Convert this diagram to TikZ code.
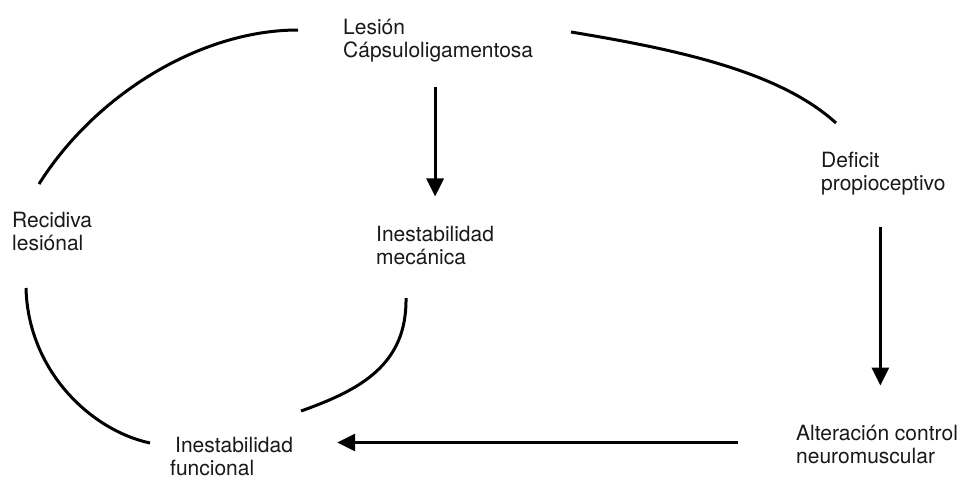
\documentclass[tikz,border=0pt]{standalone}
\usepackage{fontspec}
\setmainfont{TeX Gyre Heros}
\usetikzlibrary{arrows.meta}
\begin{document}
\begin{tikzpicture}[x=1pt,y=-1pt,
  lbl/.style={anchor=base west,inner sep=0pt,align=left,font=\fontsize{21}{23}\selectfont,text=black!90},
  arr/.style={line width=3pt,-{Triangle[length=18pt,width=17pt]}},
  arc/.style={line width=3pt}]
\useasboundingbox[fill=white] (0,0) rectangle (960,480);
\node[lbl] (les) at (343,57) {Lesión\\Cápsuloligamentosa};
\node[lbl] (mec) at (376,264) {Inestabilidad\\mecánica};
\node[lbl] (rec) at (12,250) {Recidiva\\lesiónal};
\node[lbl] (def) at (821,190) {Deficit\\propioceptivo};
\node[lbl] (fun) at (170,475) {\hspace{5pt}Inestabilidad\\funcional};
\node[lbl] (alt) at (796,463) {Alteración control\\neuromuscular};
% arrows
\draw[arr,shorten <=25pt,shorten >=29pt] (les.south -| mec.north) -- (mec.north);
\draw[arr,shorten <=32pt,shorten >=39pt] ([xshift=-3pt]def.south) -- ([xshift=-3pt]def.south |- alt.north);
\draw[arr,shorten <=58pt,shorten >=44pt] ([yshift=1.5pt]alt.west) -- ([yshift=1.5pt]alt.west -| fun.east);
% arcs
\coordinate (a1) at (39,184);  \coordinate (a2) at (298,30);
\coordinate (b1) at (571,32);  \coordinate (b2) at (836,123);
\coordinate (c1) at (26,288);  \coordinate (c2) at (150,443);
\coordinate (d1) at (406,298); \coordinate (d2) at (301,411);
\draw[arc] (a1) .. controls (95,95) and (200,30) .. (a2);
\draw[arc] (b1) .. controls (680,50) and (780,72) .. (b2);
\draw[arc] (c1) .. controls (28,370) and (90,430) .. (c2);
\draw[arc] (d1) .. controls (407,365) and (360,390) .. (d2);
\end{tikzpicture}
\end{document}
